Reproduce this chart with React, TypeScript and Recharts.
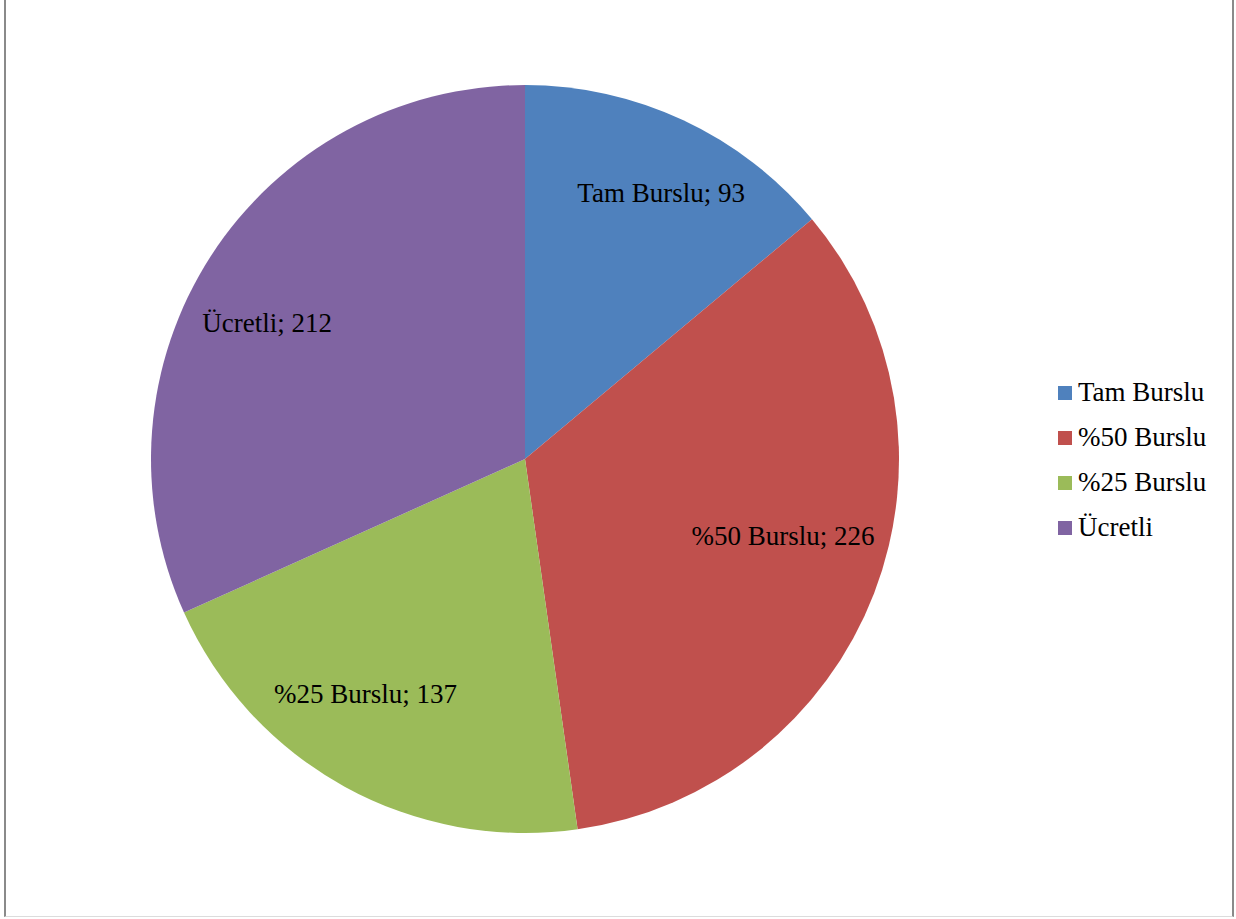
import React from "react";
import { PieChart, Pie, Cell, Legend } from "recharts";

const categories = ["Tam Burslu", "%50 Burslu", "%25 Burslu", "Ücretli"];
const values = [93, 226, 137, 212];
const colors = ["#4F81BD", "#C0504D", "#9BBB59", "#8064A2"];

// label placement tweaks (angle shift in degrees, radius fraction)
const labelAngleShift = [-2, 4.4, -5.3, 5];
const labelRadiusFrac = [0.8, 0.72, 0.76, 0.78];

const data = categories.map((name, i) => ({ name, value: values[i] }));

const RADIAN = Math.PI / 180;
const FONT = "'Liberation Serif', 'Times New Roman', serif";

const renderLabel = (props: any) => {
  const { cx, cy, midAngle, outerRadius, name, value, index } = props;
  const r = outerRadius * labelRadiusFrac[index];
  const a = midAngle + labelAngleShift[index];
  const x = cx + r * Math.cos(-a * RADIAN);
  const y = cy + r * Math.sin(-a * RADIAN);
  return (
    <text
      x={x}
      y={y}
      textAnchor="middle"
      dominantBaseline="central"
      fill="#000"
      fontFamily={FONT}
      fontSize={27}
    >
      {`${name}; ${value}`}
    </text>
  );
};

const renderLegend = () => (
  <div style={{ fontFamily: FONT, fontSize: 27, color: "#000" }}>
    {categories.map((c, i) => (
      <div key={c} style={{ display: "flex", alignItems: "center", height: 45 }}>
        <span style={{ display: "inline-block", width: 14, height: 14, background: colors[i], marginRight: 6 }} />
        <span>{c}</span>
      </div>
    ))}
  </div>
);

export default function App() {
  return (
    <div style={{ position: "absolute", left: 0, top: 0, width: 1236, height: 919, background: "#fff" }}>
      <div
        style={{
          position: "absolute",
          left: 4,
          top: -2,
          width: 1226,
          height: 918,
          borderLeft: "2px solid #8a8a8a",
          borderRight: "2px solid #8a8a8a",
          borderBottom: "1px solid #dcdcdc",
        }}
      />
      <PieChart
        width={1236}
        height={919}
        margin={{ top: 0, right: 0, bottom: 0, left: 0 }}
        style={{ position: "absolute", left: 0, top: 0 }}
      >
        <Pie
          data={data}
          dataKey="value"
          nameKey="name"
          cx={525}
          cy={459}
          outerRadius={374}
          startAngle={90}
          endAngle={-270}
          stroke="none"
          label={renderLabel}
          labelLine={false}
          isAnimationActive={false}
        >
          {data.map((d, i) => (
            <Cell key={d.name} fill={colors[i]} />
          ))}
        </Pie>
        <Legend
          layout="vertical"
          align="right"
          verticalAlign="top"
          content={renderLegend}
          wrapperStyle={{ left: 1058, top: 370, width: 175 }}
        />
      </PieChart>
    </div>
  );
}
